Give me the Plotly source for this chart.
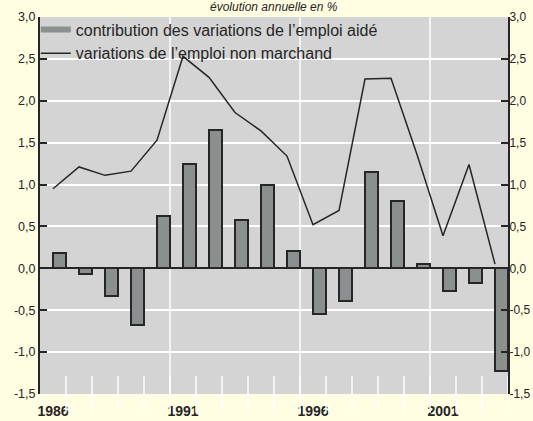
import plotly.graph_objects as go

years = list(range(1986, 2004))
aide = [0.18, -0.07, -0.33, -0.68, 0.62, 1.24, 1.65, 0.58, 1.00, 0.21,
        -0.55, -0.39, 1.15, 0.80, 0.05, -0.27, -0.17, -1.22]
non_marchand = [0.95, 1.21, 1.11, 1.16, 1.53, 2.53, 2.28, 1.86, 1.64, 1.34,
                0.52, 0.69, 2.26, 2.27, 1.36, 0.39, 1.24, 0.05]
y_ticks = [-1.5, -1.0, -0.5, 0.0, 0.5, 1.0, 1.5, 2.0, 2.5, 3.0]
y_labels = ["-1,5", "-1,0", "-0,5", "0,0", "0,5", "1,0", "1,5", "2,0", "2,5", "3,0"]
x_labels_years = [1986, 1991, 1996, 2001]
grid_years = [1990.5, 1995.5, 2000.5]
title_text = "évolution annuelle en %"
name_bar = "contribution des variations de l’emploi aidé"
name_line = "variations de l’emploi non marchand"

BG = "#fffde2"
PLOT = "#d4d4d4"
BAR = "#8b8f8f"
DARK = "#262626"
FONT = "Liberation Sans"

fig = go.Figure()
fig.add_trace(go.Bar(
    x=[y + 0.25 for y in years], y=aide, width=0.5,
    marker=dict(color=BAR, line=dict(color=DARK, width=2)),
    showlegend=False, yaxis="y"))
fig.add_trace(go.Scatter(
    x=[None], y=[None], mode="lines", name=name_bar,
    line=dict(color=BAR, width=6), yaxis="y"))
fig.add_trace(go.Scatter(
    x=years, y=non_marchand, mode="lines", name=name_line,
    line=dict(color=DARK, width=1.5), yaxis="y2"))

shapes = []
for g in grid_years:
    shapes.append(dict(type="line", xref="x", yref="paper", x0=g, x1=g, y0=0, y1=1,
                       line=dict(color="white", width=1.5), layer="below"))
for y in years:
    b = y + 0.5
    shapes.append(dict(type="line", xref="x", yref="paper", x0=b, x1=b, y0=-0.05, y1=0.048,
                       line=dict(color="white", width=1.5), layer="above"))

fig.update_layout(
    width=533, height=421,
    margin=dict(l=40, r=25, t=17, b=27, autoexpand=False),
    paper_bgcolor=BG, plot_bgcolor=PLOT,
    font=dict(family=FONT, size=13, color=DARK),
    bargap=0,
    shapes=shapes,
    showlegend=True,
    legend=dict(x=-0.009, y=1.012, xanchor="left", yanchor="top",
                bgcolor="rgba(0,0,0,0)", font=dict(size=16, color=DARK),
                itemwidth=30, tracegroupgap=0),
    xaxis=dict(range=[1985.5, 2003.5], tickvals=x_labels_years,
               ticktext=[str(v) for v in x_labels_years], automargin=False,
               showgrid=False, zeroline=False, showline=False, ticks="",
               tickfont=dict(size=14, color=DARK, family=FONT, weight="bold"),
               ticklabelstandoff=7),
    yaxis=dict(range=[-1.5, 3.0], tickvals=y_ticks, ticktext=y_labels, automargin=False,
               showgrid=True, gridcolor="white", gridwidth=1.5,
               zeroline=True, zerolinecolor=DARK, zerolinewidth=2,
               showline=True, linecolor=DARK, linewidth=2,
               tickfont=dict(size=12.5),
               ticks="inside", ticklen=7, tickcolor=DARK, tickwidth=1.5),
    yaxis2=dict(range=[-1.5, 3.0], tickvals=y_ticks, ticktext=y_labels, automargin=False,
                overlaying="y", side="right", showgrid=False, zeroline=False,
                showline=True, linecolor=DARK, linewidth=2,
                tickfont=dict(size=12), ticklabelstandoff=-3,
                ticks="inside", ticklen=7, tickcolor=DARK, tickwidth=1.5),
    annotations=[dict(text=title_text, xref="paper", yref="paper", x=0.5, y=1.0,
                      yshift=1, xanchor="center", yanchor="bottom", showarrow=False,
                      font=dict(size=12, color=DARK, family=FONT, style="italic"))],
)
fig.write_html("out.html", config={"displayModeBar": False},
               post_script="document.body.style.margin='0';document.body.style.overflow='hidden';")
